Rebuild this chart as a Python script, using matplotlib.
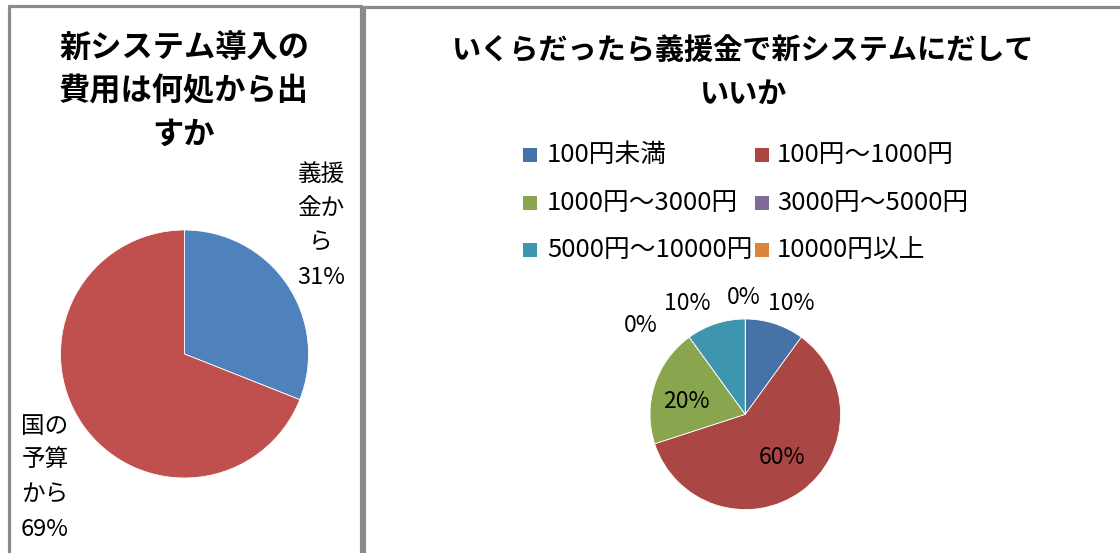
import matplotlib
matplotlib.use("Agg")
import matplotlib.pyplot as plt
from matplotlib.patches import Rectangle
from matplotlib.lines import Line2D

plt.rcParams['font.family'] = ['Noto Sans CJK JP', 'DejaVu Sans']

W, H = 1120, 553

# ---------------- data ----------------
left_title = "新システム導入の\n費用は何処から出\nすか"
left_categories = ["義援\n金か\nら", "国の\n予算\nから"]
left_values = [31, 69]
left_colors = ["#4F81BD", "#C0504D"]

right_title = "いくらだったら義援金で新システムにだして\nいいか"
right_categories = ["100円未満", "100円～1000円", "1000円～3000円",
                    "3000円～5000円", "5000円～10000円", "10000円以上"]
right_values = [10, 60, 20, 0, 10, 0]
right_colors = ["#4572A7", "#AA4643", "#89A54E", "#80699B", "#3D96AE", "#DB843D"]

# ---------------- layout (pixels) ----------------
left_center, left_r = (184.5, 354.0), 124.0
right_center, right_r = (745.3, 414.3), 95.3
left_label_pos = [(321, 226), (45, 478)]
right_label_pos = [(791, 303), (782, 457), (686, 402), (641, 325), (687, 303), (744, 298)]

fig = plt.figure(figsize=(W / 100, H / 100), dpi=100)
fig.patch.set_facecolor("white")


def fx(px):
    return px / W


def fy(py):
    return 1 - py / H


def pie_axes(center, r):
    cx, cy = center
    ax = fig.add_axes([fx(cx - r), fy(cy + r), 2 * r / W, 2 * r / H])
    return ax


def finish(ax):
    ax.set_xlim(-1, 1)
    ax.set_ylim(-1, 1)
    ax.axis("off")


# panel borders
border_kw = dict(transform=fig.transFigure, color="#8a8a8a", lw=2.3, solid_capstyle="butt")
fig.add_artist(Line2D([fx(8.5), fx(8.5)], [fy(4.5), fy(553)], **border_kw))
fig.add_artist(Line2D([fx(7.5), fx(361.5)], [fy(5.7), fy(5.7)], **border_kw))
fig.add_artist(Line2D([fx(361.2), fx(361.2)], [fy(4.5), fy(553)], **border_kw))
fig.add_artist(Line2D([fx(363.6), fx(363.6)], [fy(5.5), fy(553)], **border_kw))
fig.add_artist(Line2D([fx(362.5), fx(1120)], [fy(6.7), fy(6.7)], **border_kw))

# ---------------- left pie ----------------
axl = pie_axes(left_center, left_r)
axl.pie(left_values, colors=left_colors, startangle=90, counterclock=False,
        radius=1, wedgeprops=dict(edgecolor="white", linewidth=0.6))
finish(axl)
fig.text(fx(184), fy(91.5), left_title, ha="center", va="center",
         fontsize=22.5, fontweight="bold", linespacing=1.45, color="#000000")
for cat, v, (px, py) in zip(left_categories, left_values, left_label_pos):
    fig.text(fx(px), fy(py), f"{cat}\n{v}%", ha="center", va="center",
             multialignment="center", fontsize=17, linespacing=1.62, color="#000000")

# ---------------- right pie ----------------
axr = pie_axes(right_center, right_r)
axr.pie(right_values, colors=right_colors, startangle=90, counterclock=False,
        radius=1, wedgeprops=dict(edgecolor="white", linewidth=0.6))
finish(axr)
fig.text(fx(743.5), fy(72), right_title, ha="center", va="center",
         fontsize=21, fontweight="bold", linespacing=1.55, color="#000000")
for v, (px, py) in zip(right_values, right_label_pos):
    fig.text(fx(px), fy(py), f"{v}%", ha="center", va="center",
             fontsize=16.5, color="#000000")

# legend (2 columns, row-major)
col_sq_x = [523, 755]
col_txt_x = [547, 777]
row_y = [155, 203, 250]
sq = 14
for i, (cat, col) in enumerate(zip(right_categories, right_colors)):
    r, c = divmod(i, 2)
    y = row_y[r]
    fig.add_artist(Rectangle((fx(col_sq_x[c]), fy(y + sq / 2)), sq / W, sq / H,
                             transform=fig.transFigure, facecolor=col, edgecolor="none"))
    fig.text(fx(col_txt_x[c]), fy(y), cat, ha="left", va="center",
             fontsize=18.5, color="#000000")

fig.savefig("out.png", dpi=100, facecolor="white")
